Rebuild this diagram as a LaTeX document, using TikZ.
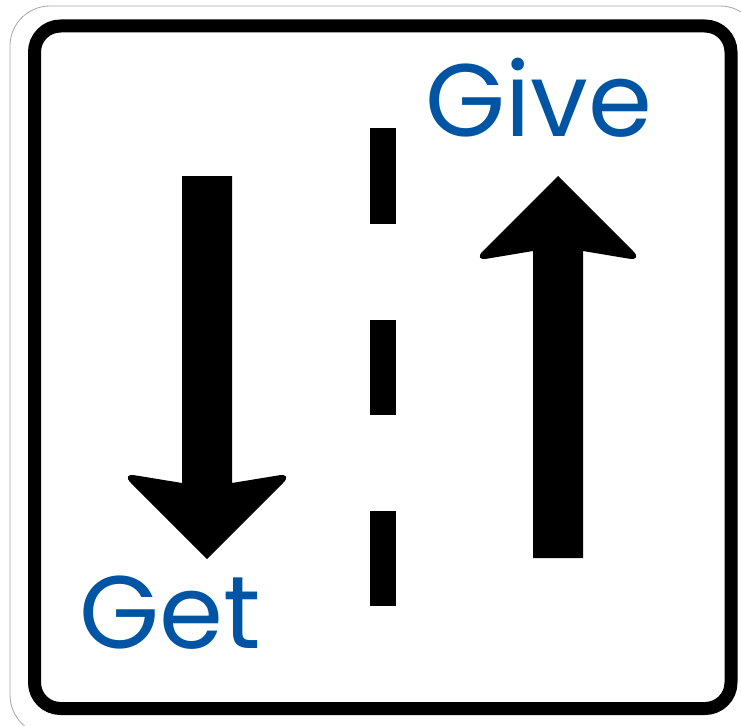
\documentclass[tikz,border=0pt]{standalone}
\usepackage{fontspec}
\setmainfont{Poppins}
\usepackage{tikz}
\usetikzlibrary{calc}
\definecolor{signblue}{RGB}{0,84,164}

\tikzset{
  signtext/.style={text=signblue, inner sep=0pt, anchor=base west, font=\fontsize{103}{103}\selectfont},
  bigarrow/.style={fill=black, line join=round},
}

\begin{document}
\begin{tikzpicture}[x=1pt, y=-1pt, line cap=round, line join=round]

\useasboundingbox (0,0) rectangle (741,725);

% cornice esterna
\draw[gray!70, line width=0.8pt, rounded corners=40] (10,6) rectangle (760,735);
\draw[line width=13pt, rounded corners=26] (34.5,26) rectangle (731,708.5);

% linea tratteggiata centrale
\foreach \ya/\yb in {128/224, 320/415, 511/606}
  \fill (370,\ya) rectangle (396,\yb);

% freccia in giu
\coordinate (Dtip) at (207,559);
\fill[bigarrow] (182,176) -- (232,176) -- (232,483)
  [rounded corners=14] -- (293,473) [sharp corners] -- (Dtip)
  [rounded corners=14] -- (121,473) [sharp corners] -- (182,483) -- cycle;

% freccia in su
\coordinate (Utip) at (558,176);
\fill[bigarrow] (533,558) -- (583,558) -- (583,251)
  [rounded corners=14] -- (643,261) [sharp corners] -- (Utip)
  [rounded corners=14] -- (473,261) [sharp corners] -- (533,251) -- cycle;

% etichette
\node[signtext] (give) at (425,136) {Give};
\node[signtext] (get) at (79,648) {Get};

\end{tikzpicture}
\end{document}
